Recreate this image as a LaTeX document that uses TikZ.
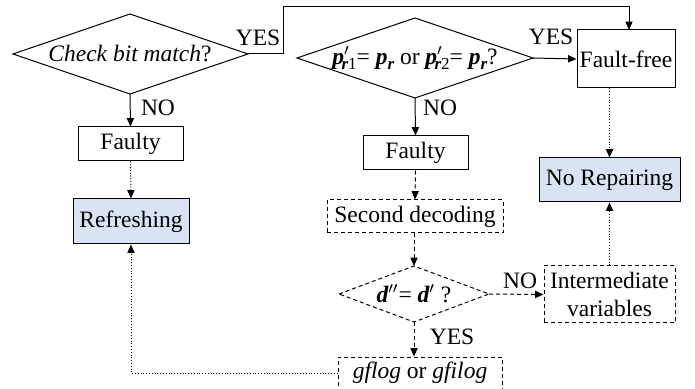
\documentclass[tikz,border=0pt]{standalone}
\usepackage{fontspec}
\setmainfont{Liberation Serif}
\usetikzlibrary{shapes.geometric,arrows.meta}
\definecolor{boxblue}{RGB}{218,227,243}
\tikzset{
  base/.style={draw, line width=0.5pt, inner sep=0pt, font=\fontsize{11.75}{14}\selectfont},
  plainbox/.style={base, rectangle, minimum width=#1},
  dbox/.style={base, rectangle, dash pattern=on 2pt off 1.5pt},
  bluebox/.style={base, rectangle, fill=boxblue},
  dia/.style={base, diamond, aspect=2.9},
  conn/.style={line width=0.5pt, -{Triangle[length=4.2pt,width=3.6pt]}},
  dotconn/.style={conn, dash pattern=on 0.5pt off 0.9pt},
  dashconn/.style={conn, dash pattern=on 2pt off 1.5pt},
  lbl/.style={font=\fontsize{11.75}{14}\selectfont, inner sep=0pt},
}
\newcommand{\bip}{{\bfseries\itshape p}}
\begin{document}
\begin{tikzpicture}[x=0.5pt,y=-0.5pt]
\useasboundingbox (0,0) rectangle (695,389);
% diamonds
\draw[line width=0.5pt] (13,54) coordinate (d1w) -- (130,14) -- (248,54) coordinate (d1e) -- (130,94) coordinate (d1s) -- cycle;
\node[lbl] (d1t) at (130,54) {\itshape Check bit match\upshape ?};
\draw[line width=0.5pt] (297,58) coordinate (d2w) -- (415,18) -- (533,58) coordinate (d2e) -- (415,98) coordinate (d2s) -- cycle;
\node[lbl] (d2t) at (415,58) {\bip$'$\kern-0.35em\raisebox{-0.45ex}{\fontsize{8.5}{10}\selectfont\bfseries\itshape r\normalfont 1}= \bip\raisebox{-0.45ex}{\fontsize{8.5}{10}\selectfont\bfseries\itshape r} or \bip$'$\kern-0.35em\raisebox{-0.45ex}{\fontsize{8.5}{10}\selectfont\bfseries\itshape r\normalfont 2}= \bip\raisebox{-0.45ex}{\fontsize{8.5}{10}\selectfont\bfseries\itshape r}?};
\draw[line width=0.5pt, dash pattern=on 2pt off 1.5pt] (339,294) coordinate (d3w) -- (414,266) coordinate (d3n) -- (489,294) coordinate (d3e) -- (414,322) coordinate (d3s) -- cycle;
\node[lbl] (d3t) at (414,294) {{\bfseries\itshape d}$''$= {\bfseries\itshape d}$'$ ?};
% boxes
\node[base, minimum width=52.5pt, minimum height=17pt] (f1) at (130.5,144) {Faulty};
\node[bluebox, minimum width=58pt, minimum height=22.5pt] (ref) at (131,221.5) {Refreshing};
\node[base, minimum width=49pt, minimum height=29pt] (ff) at (626,59) {Fault-free};
\node[base, minimum width=52.5pt, minimum height=17pt] (f2) at (415.5,153) {Faulty};
\node[dbox, minimum width=88pt, minimum height=16.5pt] (sd) at (415,216.5) {Second decoding};
\node[bluebox, minimum width=70.5pt, minimum height=22pt] (nr) at (609.5,180) {No Repairing};
\node[dbox, minimum width=65.5pt, minimum height=28.5pt, align=center] (iv) at (609.5,294.5) {Intermediate\\variables};
\node[dbox, minimum width=82pt, minimum height=16pt] (gf) at (420,373) {\itshape gflog\upshape{} or \itshape gfilog};
% connectors
\coordinate (c1) at (283,7);
\draw[conn] (d1e) -- (283,54) -- (c1) -- (629,7) -- (629,30);
\draw[conn] (d1s) -- (f1.north);
\draw[dotconn] (f1.south) -- (ref.north);
\draw[dotconn] (gf.west) -| (ref.south);
\draw[conn] (d2e) -- (ff.west);
\draw[conn] (d2s) -- (f2.north);
\draw[dotconn] (nr.north |- ff.south) -- (nr.north);
\draw[dashconn] (f2.south) -- (sd.north);
\draw[dashconn] (sd.south -| d3n) -- (d3n);
\draw[dashconn] (d3e) -- (iv.west);
\draw[dashconn] (d3s) -- (d3s |- gf.north);
\draw[dotconn] (iv.north) -- (nr.south);
% labels
\node[lbl] (y1) at (258,37.5) {YES};
\node[lbl] (n1) at (158,108) {NO};
\node[lbl] (y2) at (551,37) {YES};
\node[lbl] (n2) at (440,108) {NO};
\node[lbl] (n3) at (520,281) {NO};
\node[lbl] (y3) at (452,337) {YES};
\end{tikzpicture}
\end{document}
